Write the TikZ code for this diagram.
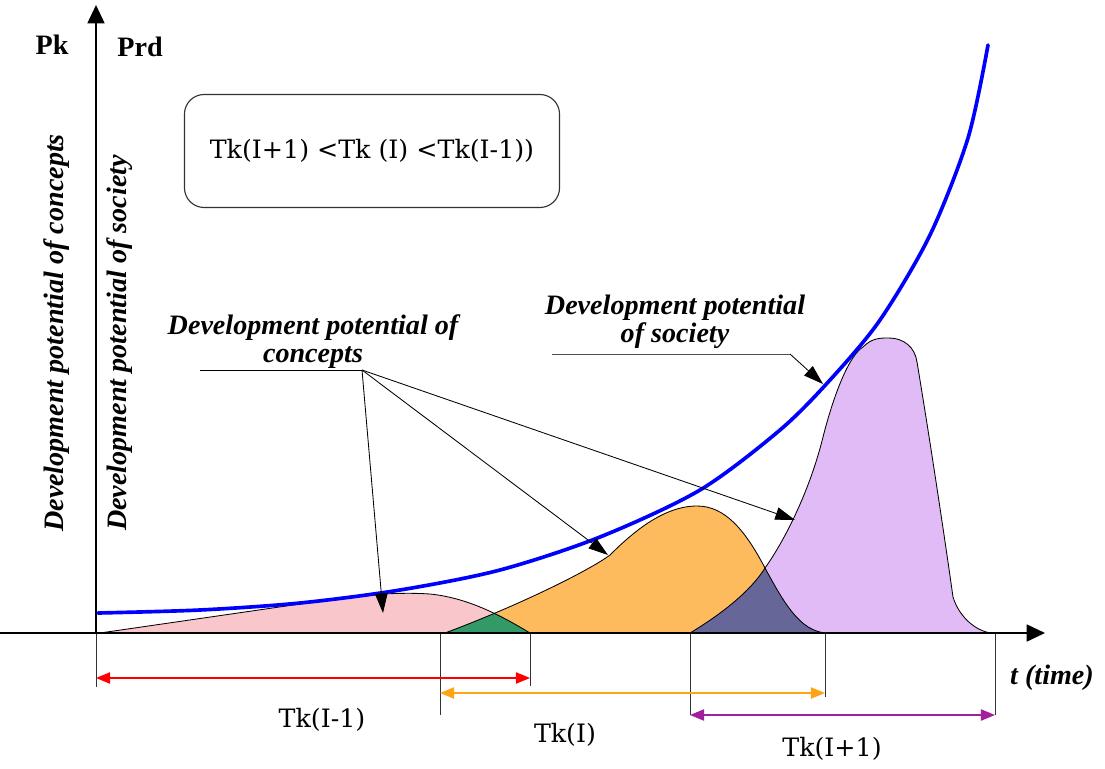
\documentclass[tikz,border=0pt]{standalone}
\usepackage{fontspec}
\setmainfont{Liberation Serif}
\newfontfamily\tkfont{DejaVu Serif}
\usetikzlibrary{positioning,calc,arrows.meta}
\definecolor{pinkc}{HTML}{F9C6CC}
\definecolor{orangec}{HTML}{FDBB5E}
\definecolor{purplec}{HTML}{E0BBF6}
\definecolor{greenc}{HTML}{339966}
\definecolor{navyc}{HTML}{666699}
\definecolor{socc}{HTML}{0000FF}
\definecolor{spanr}{HTML}{FF0000}
\definecolor{spano}{HTML}{FFA515}
\definecolor{spanp}{HTML}{A020A0}

\begin{document}
\begin{tikzpicture}[x=0.025cm, y=-0.025cm,
  pinkshape/.style={insert path={(100,633) -- (300,604) .. controls (360,594) and (400,592) .. (430,594)
      .. controls (470,598) and (505,618) .. (530,633) -- cycle}},
  orangeshape/.style={insert path={(445,633) .. controls (520,605) and (590,570) .. (610,555)
      .. controls (635,530) and (665,506) .. (697,506) .. controls (725,506) and (745,530) .. (765,568)
      .. controls (785,605) and (800,630) .. (825,633) -- cycle}},
  purpleshape/.style={insert path={(690,633) .. controls (720,615) and (750,592) .. (765,568)
      .. controls (785,540) and (810,490) .. (823,437) .. controls (835,390) and (850,355) .. (863,347)
      .. controls (872,338) and (880,338) .. (888,338) .. controls (905,338) and (915,348) .. (917,362)
      .. controls (930,440) and (945,540) .. (953,597) .. controls (960,620) and (980,633) .. (993,633) -- cycle}},
  hump/.style={draw=black, line width=0.6pt},
  leader/.style={draw=black, line width=0.6pt},
  pointer/.style={leader, -{Triangle[length=14pt, width=9pt]}},
  axis/.style={draw=black, line width=1.4pt, -{Triangle[length=13pt, width=12pt]}},
  tick/.style={draw=black!80, line width=0.6pt},
  span/.style={line width=1pt, {Triangle[length=10pt, width=8pt]}-{Triangle[length=10pt, width=8pt]}},
  lbl/.style={font=\fontsize{20}{20}\selectfont\bfseries\itshape, align=center},
  tk/.style={font=\tkfont\fontsize{18}{18}\selectfont}]
  \useasboundingbox (0,0) rectangle (1105,769);
  \fill[pinkc, pinkshape];
  \fill[orangec, orangeshape];
  \fill[purplec, purpleshape];
  \begin{scope}
    \clip[pinkshape];
    \fill[greenc, orangeshape];
  \end{scope}
  \begin{scope}
    \clip[orangeshape];
    \fill[navyc, purpleshape];
  \end{scope}
  \draw[hump, pinkshape];
  \draw[hump, orangeshape];
  \draw[hump, purpleshape];
  \draw[socc, line width=2.6pt, line cap=round] plot[smooth] coordinates {(98,613) (200,610) (300,603)
    (400,590) (500,570) (600,537) (700,490) (780,430) (830,380) (880,320) (930,235) (968,138) (988,45)};
  \coordinate (o) at (96,633);
  \coordinate (ytip) at (96,5);
  \coordinate (xleft) at (0,633);
  \coordinate (xtip) at (1045,633);
  \draw[axis] (o) -- (ytip);
  \draw[axis] (xleft) -- (xtip);
  \foreach \tx/\ty in {96/687,440/715,530/686,690/715,825/697,995/715}
    \draw[tick] (\tx,634) -- (\tx,\ty);
  \foreach \xa/\xb/\yy/\cc/\nm in {96/530/678/spanr/prev,440/825/693/spano/cur,690/995/715/spanp/next}{
    \coordinate (\nm a) at (\xa,\yy);
    \coordinate (\nm b) at (\xb,\yy);
    \draw[span, \cc] (\nm a) -- (\nm b);}
  \node[font=\fontsize{20}{20}\selectfont\bfseries] (pk) at (52,45) {Pk};
  \node[font=\fontsize{20}{20}\selectfont\bfseries] (prd) at (140,47) {Prd};
  \node[lbl, rotate=90] (vconc) at (57,333) {Development potential of concepts};
  \node[lbl, rotate=90] (vsoc) at (120,343) {Development potential of society};
  \node[draw=black!80, line width=0.8pt, rounded corners=14pt, minimum width=9.375cm,
        minimum height=2.825cm, tk] (formula) at (372,151) {Tk(I+1) <Tk (I) <Tk(I-1))};
  \node[lbl] (conclbl) at (313,342) {Development potential of\\concepts};
  \node[lbl] (soclbl) at (675,322) {Development potential\\of society};
  \node[lbl] (tlbl) at (1052,678) {t (time)};
  \node[tk] (tkprev) at (322,720) {Tk(I-1)};
  \node[tk] (tkcur) at (565,735) {Tk(I)};
  \node[tk] (tknext) at (832,749) {Tk(I+1)};
  \coordinate (cfoot) at (200,370);
  \coordinate (cknee) at (362,370);
  \coordinate (cpink) at (383,613);
  \coordinate (corange) at (608,555);
  \coordinate (cpurple) at (795,520);
  \draw[leader] (cfoot) -- (cknee);
  \foreach \tg in {cpink,corange,cpurple}
    \draw[pointer] (cknee) -- (\tg);
  \coordinate (sfoot) at (552,354);
  \coordinate (sknee) at (790,354);
  \coordinate (sblue) at (823,384);
  \draw[leader, black!70] (sfoot) -- (sknee);
  \draw[pointer] (sknee) -- (sblue);
\end{tikzpicture}
\end{document}
